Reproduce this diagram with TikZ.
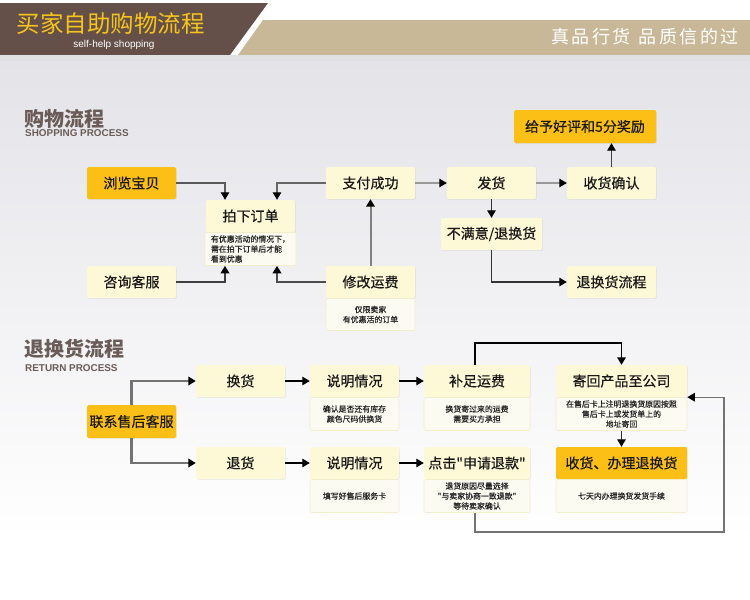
\documentclass[tikz,border=0pt]{standalone}
\usepackage{fontspec}
\setmainfont{Liberation Sans}
\newfontfamily\cjk{Noto Sans CJK SC}
\newfontfamily\cjkbox[FakeBold=0.5]{Noto Sans CJK SC}
\newfontfamily\cjknote[FakeBold=0.6]{Noto Sans CJK SC}
\newfontfamily\cjkspaced[LetterSpace=14]{Noto Sans CJK SC}
\usetikzlibrary{arrows.meta,shadows}
\definecolor{bgtop}{HTML}{E3E3E8}
\definecolor{hbrown}{HTML}{645049}
\definecolor{htan}{HTML}{C8B897}
\definecolor{htitle}{HTML}{F7C51A}
\definecolor{secgray}{HTML}{6B5B57}
\definecolor{orangebox}{HTML}{FBBF15}
\definecolor{creambox}{HTML}{FDF8D6}
\definecolor{notefill}{HTML}{FCFBF1}
\definecolor{noteline}{HTML}{F3EDCB}
\tikzset{
  basebox/.style={rectangle, rounded corners=1.5pt, inner sep=0pt, text=black!90,
    font=\cjkbox\fontsize{14}{16}\selectfont, minimum width=89pt, minimum height=32pt,
    drop shadow={opacity=0.12, shadow xshift=0.8pt, shadow yshift=-0.8pt}},
  obox/.style={basebox, fill=orangebox},
  cbox/.style={basebox, fill=creambox},
  notebox/.style={rectangle, rounded corners=1.5pt, fill=notefill, draw=noteline, line width=0.6pt,
    inner sep=2pt, minimum width=89pt, minimum height=33pt, anchor=north, align=center,
    font=\cjknote\fontsize{7.9}{10}\selectfont, text=black!85},
  tip/.style={-{Triangle[length=7.5pt,width=8.5pt,color=black]}},
  conn/.style={tip, draw=#1, line width=1.3pt},
  thickconn/.style={tip, draw=#1, line width=2pt},
}
\begin{document}
\begin{tikzpicture}[x=1pt,y=-1pt]
\useasboundingbox (0,0) rectangle (750,600);
% background
\fill[white] (0,0) rectangle (750,600);
\shade[top color=bgtop, bottom color=white] (0,55) rectangle (750,540);
% header
\fill[hbrown] (0,3) -- (268,3) -- (230,55) -- (0,55) -- cycle;
\fill[htan] (263,20) -- (750,20) -- (750,55) -- (238,55) -- cycle;
\fill[bgtop!90!black!60!white] (0,55) rectangle (750,61);
\node[anchor=west, text=htitle, font=\cjk\fontsize{23.5}{24}\selectfont] (title) at (13,24) {买家自助购物流程};
\node[text=white, font=\fontsize{10}{10}\selectfont] (subtitle) at (114,45) {self-help shopping};
\node[text=white, font=\cjkspaced\fontsize{18}{18}\selectfont] (slogan) at (645,37) {真品行货\hspace{8pt}品质信的过};
% section headers
\node[anchor=west, text=secgray, font=\cjk\bfseries\fontsize{20}{20}\selectfont, inner sep=0pt] (sec1) at (24,119) {购物流程};
\node[anchor=west, text=secgray, font=\bfseries\fontsize{9.9}{9}\selectfont, inner sep=0pt] (sec1e) at (25,133.5) {SHOPPING PROCESS};
\node[anchor=west, text=secgray, font=\cjk\bfseries\fontsize{20}{20}\selectfont, inner sep=0pt] (sec2) at (24,349) {退换货流程};
\node[anchor=west, text=secgray, font=\bfseries\fontsize{9.9}{9}\selectfont, inner sep=0pt] (sec2e) at (25,368) {RETURN PROCESS};

% ---------- shopping process ----------
\node[obox] (b1) at (131.5,183) {浏览宝贝};
\node[cbox] (b2) at (250.5,216) {拍下订单};
\node[notebox, align=left, inner xsep=6pt] (n2) at (b2.south) {有优惠活动的情况下，\\需在拍下订单后才能\\看到优惠};
\node[cbox] (b3) at (131.5,282) {咨询客服};
\node[cbox] (b4) at (370.5,183) {支付成功};
\node[cbox] (b5) at (370.5,282) {修改运费};
\node[notebox, minimum height=32pt] (n5) at (b5.south) {仅限卖家\\有优惠活的订单};
\node[cbox] (b6) at (491.5,183) {发货};
\node[cbox] (b7) at (611.5,183) {收货确认};
\node[obox, minimum width=142pt, minimum height=33pt] (b8) at (585,126.5) {给予好评和5分奖励};
\node[cbox, minimum width=101pt] (b9) at (491.5,234) {不满意/退换货};
\node[cbox] (b10) at (611.5,282) {退换货流程};

\draw[conn=black!65] (b1.east) -| ([xshift=-25.5pt]b2.north);
\draw[conn=black!60] (b4.west) -| ([xshift=26.5pt]b2.north);
\draw[thickconn=black!75] (b3.east) -| ([xshift=-25.5pt]n2.south);
\draw[thickconn=black!70] (b5.west) -| ([xshift=26.5pt]n2.south);
\draw[thickconn=black!50] (b5.north) -- (b4.south);
\draw[conn=black!40] (b4.east) -- (b6.west);
\draw[conn=black!40] (b6.east) -- (b7.west);
\draw[conn=black!75] (b7.north) -- (b7.north |- b8.south);
\draw[conn=black!80] (b6.south) -- (b9.north);
\draw[conn=black!80] (b9.south) |- (b10.west);

% ---------- return process ----------
\node[obox, minimum height=33pt] (c1) at (131.5,421.5) {联系售后客服};
\node[cbox] (c2) at (240.5,381) {换货};
\node[cbox] (c3) at (240.5,463) {退货};
\node[cbox] (c4) at (354.5,381) {说明情况};
\node[notebox] (n4) at (c4.south) {确认是否还有库存\\颜色尺码供换货};
\node[cbox] (c5) at (354.5,463) {说明情况};
\node[notebox] (n5b) at (c5.south) {填写好售后服务卡};
\node[cbox, minimum width=106pt] (c6) at (477,381) {补足运费};
\node[notebox, minimum width=106pt] (n6) at (c6.south) {换货寄过来的运费\\需要买方承担};
\node[cbox, minimum width=106pt] (c7) at (477,463) {点击"申请退款"};
\node[notebox, minimum width=106pt] (n7) at (c7.south) {退货原因尽量选择\\"与卖家协商一致退款"\\等待卖家确认};
\node[cbox, minimum width=131pt] (c8) at (621.5,381) {寄回产品至公司};
\node[notebox, minimum width=131pt] (n8) at (c8.south) {在售后卡上注明退换货原因按照\\售后卡上或发货单上的\\地址寄回};
\node[obox, minimum width=131pt] (c9) at (621.5,463) {收货、办理退换货};
\node[notebox, minimum width=131pt] (n9) at (c9.south) {七天内办理换货发货手续};
\coordinate (loop) at (724,532);

\draw[tip, draw=black!55, line width=2.5pt] (c1.north) |- (c2.west);
\draw[tip, draw=black!55, line width=2.5pt] (c1.south) |- (c3.west);
\draw[conn=black] (c2.east) -- (c4.west);
\draw[conn=black] (c3.east) -- (c5.west);
\draw[conn=black] (c4.east) -- (c6.west);
\draw[conn=black] (c5.east) -- (c7.west);
\draw[tip, draw=black, line width=1.6pt] ([xshift=-2pt]c6.north) -- ++(0,-22) -| (c8.north);
\draw[conn=black!80] (n8.south) -- (c9.north);
\draw[tip, draw=black!55, line width=1.2pt] ([xshift=-2pt]n7.south) |- (loop) |- (n8.north east);
\end{tikzpicture}
\end{document}
